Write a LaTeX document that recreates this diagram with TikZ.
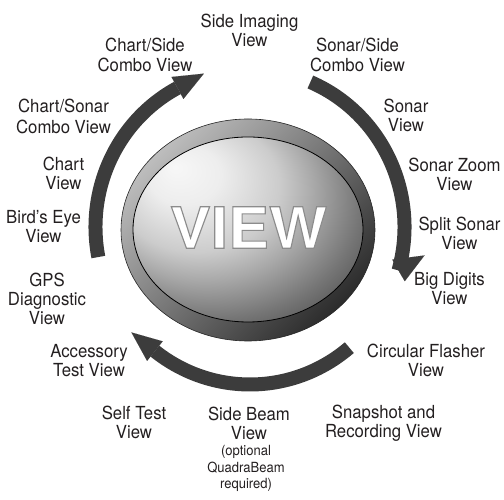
\documentclass[tikz,border=0pt]{standalone}
\usepackage{fontspec}
\setmainfont{TeX Gyre Heros}[FakeStretch=0.93]
\newfontfamily\viewfont{TeX Gyre Heros}[FakeStretch=1.08, FakeBold=2]
\usetikzlibrary{arrows.meta}
\definecolor{arcgray}{HTML}{3C3C3C}
\definecolor{txt}{HTML}{231F20}
\definecolor{ringlight}{HTML}{BDBDBD}
\definecolor{ringdark}{HTML}{2C2C2C}
\pgfdeclareradialshading{facesh}{\pgfpoint{-16bp}{17bp}}{%
  rgb(0bp)=(0.97,0.97,0.97); rgb(8bp)=(0.93,0.93,0.93); rgb(18bp)=(0.80,0.80,0.80);
  rgb(24bp)=(0.66,0.66,0.66); rgb(32bp)=(0.46,0.46,0.46); rgb(40bp)=(0.28,0.28,0.28);
  rgb(48bp)=(0.15,0.15,0.15); rgb(60bp)=(0.12,0.12,0.12)}
\tikzset{
  lbl/.style={align=center, inner sep=0pt, text=txt, font=\fontsize{18}{19}\selectfont},
  smalllbl/.style={align=center, inner sep=0pt, text=txt, font=\fontsize{14}{16.5}\selectfont},
  ringarc/.style={line width=14pt, draw=arcgray, line cap=butt,
    -{Triangle[length=30pt,width=25pt,line width=0.01pt]}},
  plainarc/.style={line width=14pt, draw=arcgray, line cap=butt}
}
\begin{document}
\begin{tikzpicture}[x=1pt,y=1pt]
\useasboundingbox (0,0) rectangle (504,500);
% button
\coordinate (B) at (248,270);
\shadedraw[top color=ringlight, bottom color=ringdark, shading angle=45, draw=black!85, line width=0.6pt]
  (B) ellipse [x radius=127, y radius=111];
\shadedraw[shading=facesh, draw=black, line width=0.8pt]
  (248,270.5) ellipse [x radius=115, y radius=92.5];
\node[font=\viewfont\bfseries\fontsize{57}{57}\selectfont, text=white, inner sep=0pt] (view)
  at (248.5,272.5) {\special{pdf:code q 0.55 G}VIEW\special{pdf:code Q}};
% ring of arrows
\coordinate (O) at (250,273);
\draw[ringarc] ([shift={(O)}]191:154.5 and 157.5) arc[start angle=191, end angle=118, x radius=154.5, y radius=157.5] -- ([turn]0:30pt);
\draw[plainarc] ([shift={(O)}]67:154.5 and 157.5) arc[start angle=67, end angle=-16, x radius=154.5, y radius=157.5] coordinate (r1);
\draw[ringarc] (r1) -- ([turn]0:30pt);
\draw[ringarc] ([shift={(O)}]-50:154.5 and 157.5) arc[start angle=-50, end angle=-128, x radius=154.5, y radius=157.5] -- ([turn]0:30pt);
% labels
\node[lbl] (sideimg) at (249.5,466.8) {\strut Side Imaging\\\strut View};
\node[lbl] (chartside) at (145,442.1) {\strut Chart/Side\\\strut Combo View};
\node[lbl] (sonarside) at (357.5,442) {\strut Sonar/Side\\\strut Combo View};
\node[lbl] (sonar) at (406,381.4) {\strut Sonar\\\strut View};
\node[lbl] (sonarzoom) at (454.5,322.4) {\strut Sonar Zoom\\\strut View};
\node[lbl] (splitsonar) at (459.5,264.3) {\strut Split Sonar\\\strut View};
\node[lbl] (bigdigits) at (449.5,208.8) {\strut Big Digits\\\strut View};
\node[lbl] (circflash) at (426,137.1) {\strut Circular Flasher\\\strut View};
\node[lbl] (snapshot) at (383.5,75.5) {\strut Snapshot and\\\strut Recording View};
\node[lbl] (sidebeam) at (249,74.3) {\strut Side Beam\\\strut View};
\node[smalllbl] (quadra) at (246,30.8) {\strut (optional\\\strut QuadraBeam\\\strut required)};
\node[lbl] (selftest) at (134,75) {\strut Self Test\\\strut View};
\node[lbl] (accessory) at (89,136.8) {\strut Accessory\\\strut Test View};
\node[lbl] (gps) at (47,198) {\strut GPS\\\strut Diagnostic\\\strut View};
\node[lbl] (birdseye) at (43.5,271.1) {\strut Bird’s Eye\\\strut View};
\node[lbl] (chartview) at (63.5,323.8) {\strut Chart\\\strut View};
\node[lbl] (chartsonar) at (63.5,380.8) {\strut Chart/Sonar\\\strut Combo View};
\end{tikzpicture}
\end{document}
